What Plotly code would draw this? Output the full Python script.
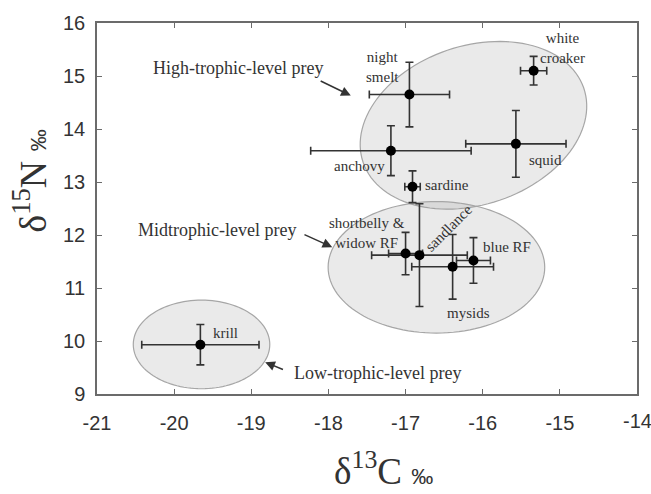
import math
import plotly.graph_objects as go

# ---------------- data ----------------
prey = ["night smelt", "white croaker", "anchovy", "squid", "sardine",
        "shortbelly & widow RF", "sandlance", "mysids", "blue RF", "krill"]
d13C = [-16.95, -15.34, -17.19, -15.57, -16.91, -17.00, -16.82, -16.39, -16.12, -19.66]
d15N = [14.65, 15.10, 13.59, 13.72, 12.91, 11.65, 11.62, 11.40, 11.52, 9.93]
d13C_sd = [0.52, 0.17, 1.04, 0.65, 0.10, 0.22, 0.62, 0.53, 0.22, 0.76]
d15N_sd = [0.61, 0.27, 0.47, 0.63, 0.30, 0.40, 0.97, 0.61, 0.43, 0.38]

# point labels
label_text = ["night<br>smelt", "white<br>croaker", "anchovy", "squid", "sardine",
              "shortbelly &<br>widow RF", "sandlance", "mysids", "blue RF", "krill"]
label_x = [-17.30, -14.97, -17.60, -15.19, -16.46, -17.50, -16.44, -16.18, -15.69, -19.33]
label_y = [15.17, 15.53, 13.31, 13.41, 12.94, 12.03, 12.13, 10.53, 11.77, 10.15]
label_angle = [0, 0, 0, 0, 0, 0, -45, 0, 0, 0]

# trophic groups: name, text position, arrow tail, arrow head
group_text = ["High-trophic-level prey", "Midtrophic-level prey", "Low-trophic-level prey"]
group_tx = [-19.17, -19.44, -17.37]
group_ty = [15.15, 12.09, 9.39]
arrow_tail_x = [-18.12, -18.33, -18.57]
arrow_tail_y = [14.92, 12.02, 9.45]
arrow_head_x = [-17.71, -17.95, -18.82]
arrow_head_y = [14.63, 11.77, 9.60]

# group ellipses (center in data units, semi-axes in screen px, rotation deg)
ell_cx = [-16.12, -16.60, -19.645]
ell_cy = [14.07, 11.39, 9.935]
ell_a = [117.0, 108.7, 68.5]
ell_b = [80.6, 66.8, 45.0]
ell_rot = [19.0, 0.0, 0.0]

xticks = [-21, -20, -19, -18, -17, -16, -15, -14]
xticklabels = ["-21", "-20", "-19", "-18", "-17", "-16", "-15", "-14"]
yticks = [9, 10, 11, 12, 13, 14, 15, 16]
yticklabels = ["9", "10", "11", "12", "13", "14", "15", "16"]

# ---------------- layout geometry ----------------
W, H = 651, 494
ML, MR, MT, MB = 97, 12, 17, 100
XR = [-21, -14]
YR = [9, 16]
pw = W - ML - MR
ph = H - MT - MB
px_x = pw / (XR[1] - XR[0])
px_y = ph / (YR[1] - YR[0])

SERIF = "Liberation Serif"
SANS = "Liberation Sans"
INK = "#333333"

fig = go.Figure()

# ellipses as shapes
shapes = []
for cx, cy, a, b, rot in zip(ell_cx, ell_cy, ell_a, ell_b, ell_rot):
    th = math.radians(rot)
    pts = []
    n = 120
    for i in range(n):
        t = 2 * math.pi * i / n
        ex, ey = a * math.cos(t), b * math.sin(t)
        px = ex * math.cos(th) - ey * math.sin(th)
        py = ex * math.sin(th) + ey * math.cos(th)
        pts.append((cx + px / px_x, cy + py / px_y))
    path = "M " + " L ".join(f"{x:.4f},{y:.4f}" for x, y in pts) + " Z"
    shapes.append(dict(type="path", path=path, xref="x", yref="y", layer="below",
                       fillcolor="rgba(150,150,150,0.2)",
                       line=dict(color="#a6a6a6", width=1.2)))

fig.add_trace(go.Scatter(
    x=d13C, y=d15N, mode="markers", text=prey,
    marker=dict(color="black", size=10),
    error_x=dict(type="data", array=d13C_sd, color=INK, thickness=1.6, width=4),
    error_y=dict(type="data", array=d15N_sd, color=INK, thickness=1.6, width=4),
    showlegend=False, hoverinfo="text"))

annotations = []
for t, x, y, ang in zip(label_text, label_x, label_y, label_angle):
    annotations.append(dict(x=x, y=y, xref="x", yref="y", text=t, showarrow=False,
                            textangle=ang, align="center",
                            font=dict(family=SERIF, size=15, color=INK)))
for t, x, y in zip(group_text, group_tx, group_ty):
    annotations.append(dict(x=x, y=y, xref="x", yref="y", text=t, showarrow=False,
                            font=dict(family=SERIF, size=18, color=INK)))
for tx, ty, hx, hy in zip(arrow_tail_x, arrow_tail_y, arrow_head_x, arrow_head_y):
    annotations.append(dict(x=hx, y=hy, ax=tx, ay=ty, xref="x", yref="y",
                            axref="x", ayref="y", text="", showarrow=True,
                            arrowhead=2, arrowsize=1.3, arrowwidth=1.5,
                            arrowcolor=INK, standoff=0))

# last x tick label sits on the figure edge; draw it explicitly so it is not dropped
annotations.append(dict(x=xticks[-1], y=(MT + ph - 421) / ph, xref="x", yref="paper",
                        text=xticklabels[-1], showarrow=False, xanchor="center",
                        yanchor="middle", font=dict(family=SANS, size=20, color=INK)))

# axis titles
annotations.append(dict(
    xref="paper", yref="paper", x=(385 - ML) / pw, y=(MT + ph - 470) / ph,
    xanchor="center", yanchor="middle", showarrow=False,
    text=("<span style='font-family:Liberation Serif;font-size:37px'>δ<sup>13</sup>C</span>"
          " <span style='font-family:Liberation Sans;font-size:22px'>‰</span>"),
    font=dict(family=SERIF, size=37, color=INK)))
annotations.append(dict(
    xref="paper", yref="paper", x=(30 - ML) / pw, y=(MT + ph - 178) / ph,
    xanchor="center", yanchor="middle", showarrow=False, textangle=-90,
    text=("<span style='font-family:Liberation Serif;font-size:38px'>δ<sup>15</sup>N</span>"
          " <span style='font-family:Liberation Sans;font-size:22px'>‰</span>"),
    font=dict(family=SERIF, size=38, color=INK)))

axis_common = dict(showgrid=False, zeroline=False, showline=True, linecolor="#6b6b6b",
                   linewidth=1.5, mirror="ticks", ticks="inside", ticklen=5,
                   tickcolor="#6b6b6b", tickwidth=1.2,
                   tickfont=dict(family=SANS, size=20, color=INK))

fig.update_layout(
    width=W, height=H, margin=dict(l=ML, r=MR, t=MT, b=MB),
    paper_bgcolor="white", plot_bgcolor="white",
    xaxis=dict(range=XR, tickvals=xticks, ticktext=xticklabels,
               ticklabelstandoff=10, **axis_common),
    yaxis=dict(range=YR, tickvals=yticks, ticktext=yticklabels,
               ticklabelstandoff=6, **axis_common),
    shapes=shapes, annotations=annotations)

fig.write_html("out.html")
